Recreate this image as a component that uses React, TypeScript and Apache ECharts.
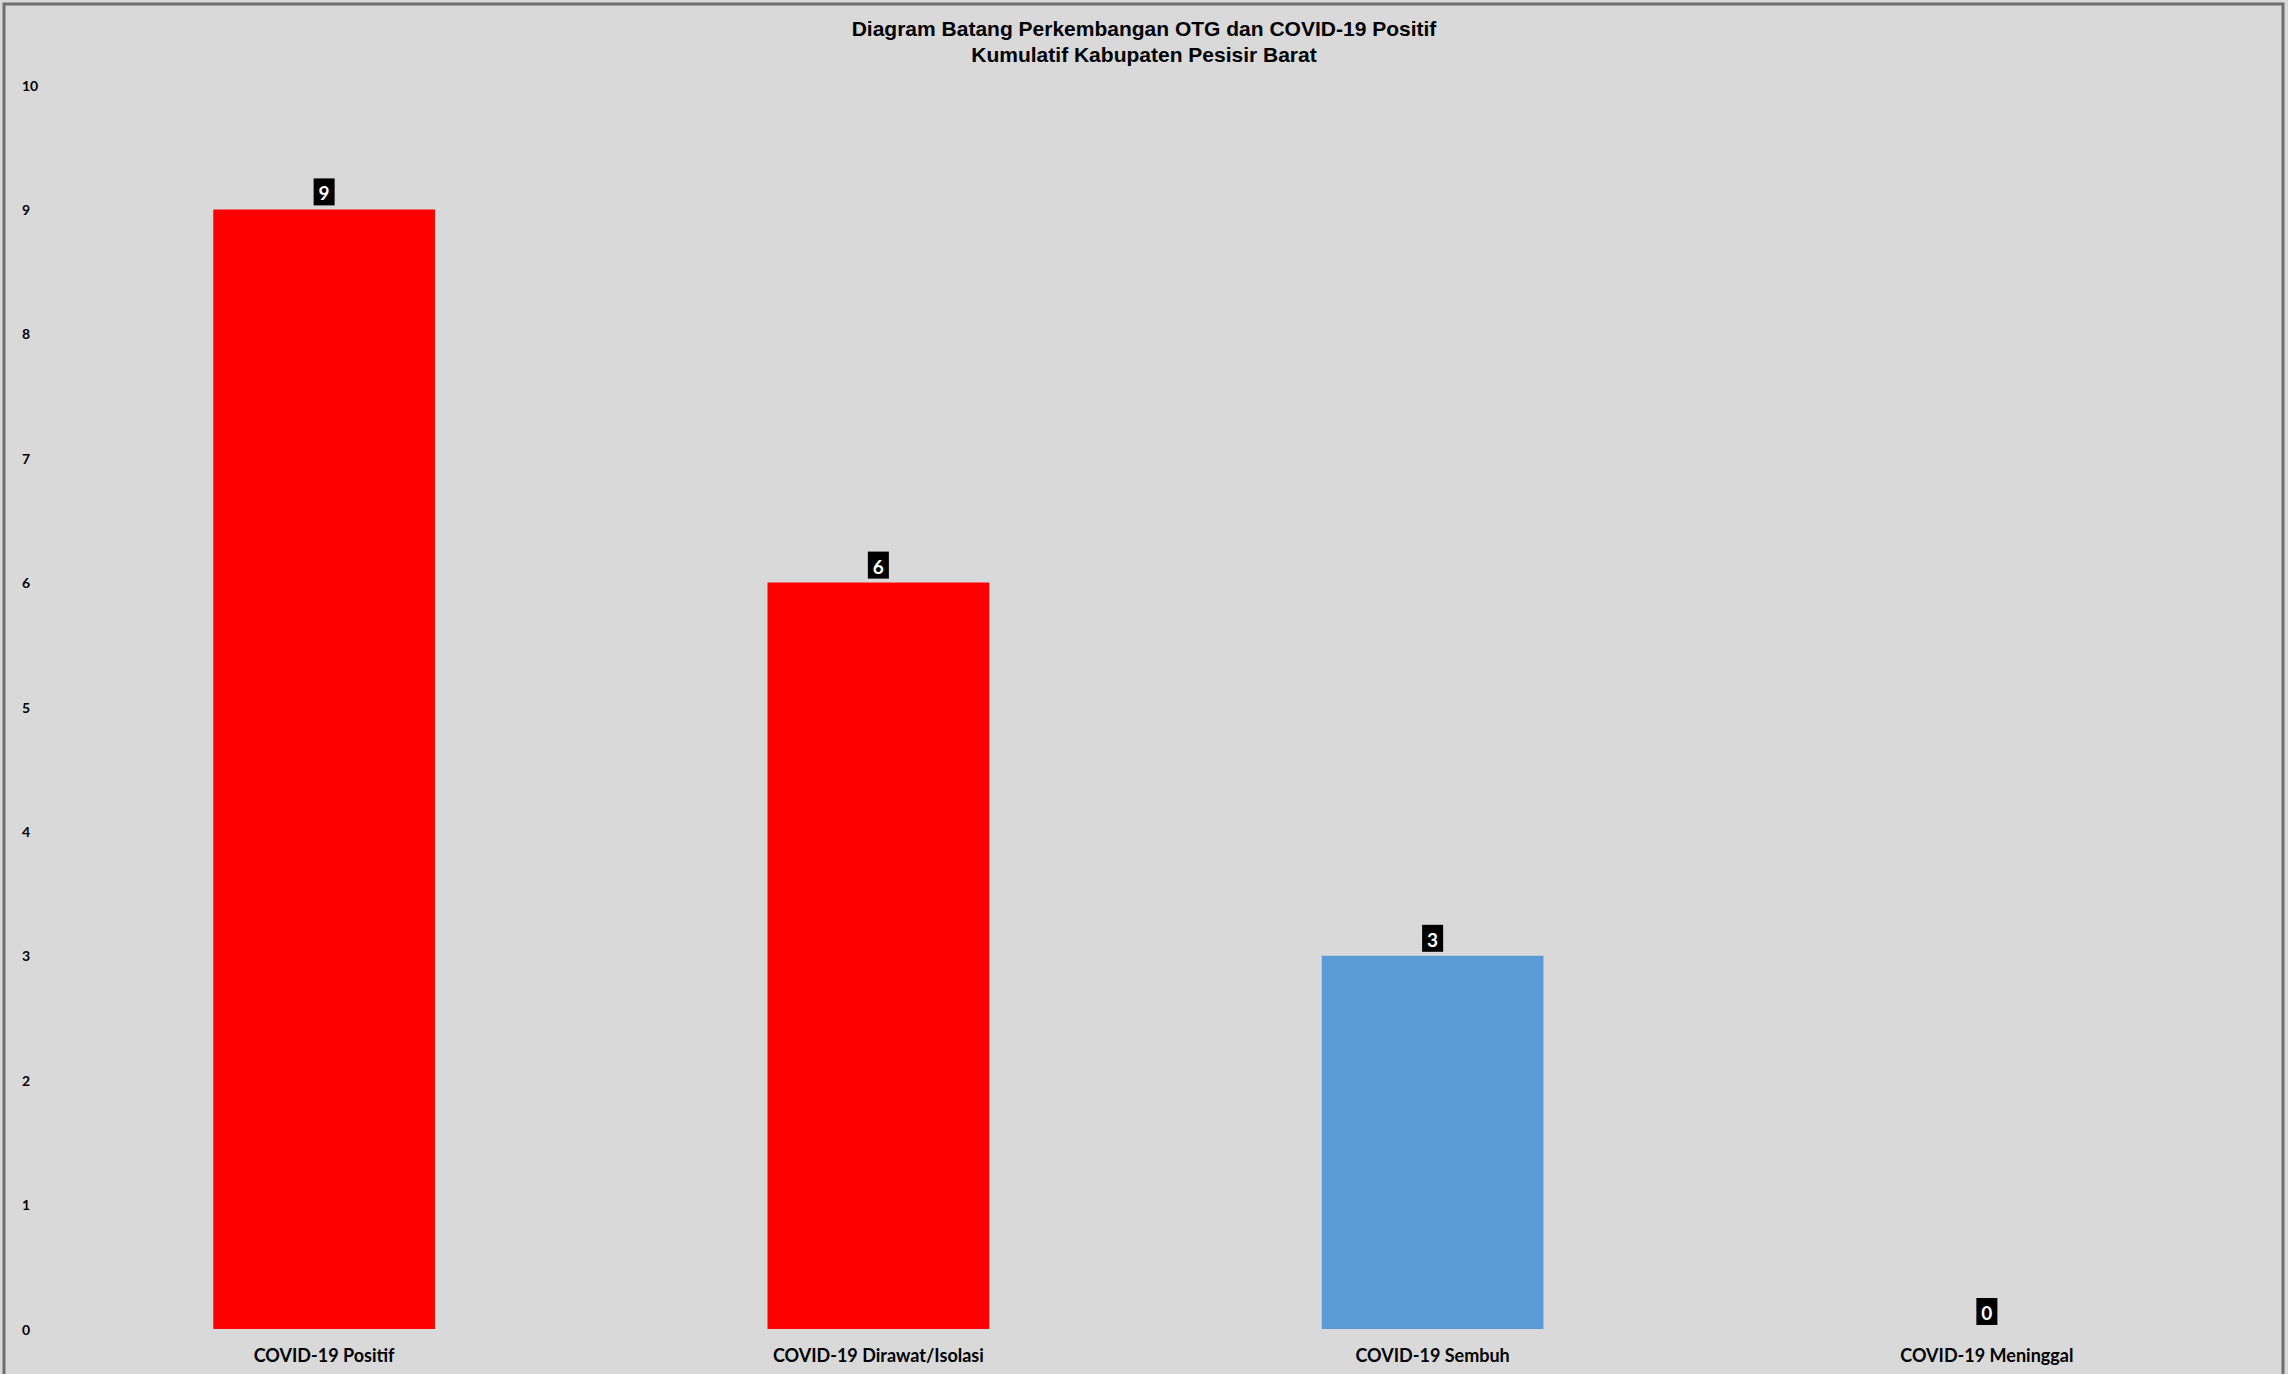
import React, { useEffect, useRef } from "react";
import * as echarts from "echarts";

const titleLines = [
  "Diagram Batang Perkembangan OTG dan COVID-19 Positif",
  "Kumulatif Kabupaten Pesisir Barat",
];
const categories = [
  "COVID-19 Positif",
  "COVID-19 Dirawat/Isolasi",
  "COVID-19 Sembuh",
  "COVID-19 Meninggal",
];
const values = [9, 6, 3, 0];
const barColors = ["#ff0000", "#ff0000", "#5b9bd5", "#5b9bd5"];
const yMin = 0;
const yMax = 10;
const yInterval = 1;

export default function App() {
  const ref = useRef<HTMLDivElement>(null);
  useEffect(() => {
    if (!ref.current) return;
    const chart = echarts.init(ref.current, undefined, { renderer: "svg" });
    const labelFont = "Lato, 'Open Sans', sans-serif";
    chart.setOption({
      animation: false,
      backgroundColor: "#d9d9d9",
      title: {
        text: titleLines.join("\n"),
        left: "center",
        top: 10,
        textStyle: {
          fontFamily: "'Liberation Sans Narrow', 'Liberation Sans', Arial, sans-serif",
          fontWeight: "bold",
          fontSize: 21,
          lineHeight: 26,
          color: "#000",
        },
      },
      graphic: [
        {
          type: "rect",
          shape: { x: 4, y: 4, width: 2279, height: 1380 },
          style: { fill: "none", stroke: "#6e6e6e", lineWidth: 3 },
          silent: true,
        },
      ],
      grid: { left: 47, right: 24, top: 85, bottom: 45 },
      xAxis: {
        type: "category",
        data: categories,
        axisLine: { show: false },
        axisTick: { show: false },
        splitLine: { show: false },
        axisLabel: {
          margin: 17,
          fontSize: 18,
          fontWeight: "bold",
          fontFamily: labelFont,
          color: "#000",
        },
      },
      yAxis: {
        type: "value",
        min: yMin,
        max: yMax,
        interval: yInterval,
        axisLine: { show: false },
        axisTick: { show: false },
        splitLine: { show: false },
        axisLabel: {
          align: "left",
          margin: 25,
          fontSize: 14,
          fontWeight: "bold",
          fontFamily: labelFont,
          color: "#000",
        },
      },
      series: [
        {
          type: "bar",
          barWidth: "40%",
          data: values.map((v, i) => ({ value: v, itemStyle: { color: barColors[i] } })),
          label: {
            show: true,
            position: "top",
            distance: 4,
            backgroundColor: "#000",
            color: "#fff",
            fontWeight: "bold",
            fontSize: 19,
            fontFamily: labelFont,
            padding: [5, 5, 3, 5],
          },
        },
      ],
    });
    return () => chart.dispose();
  }, []);
  return (
    <div
      ref={ref}
      style={{ position: "fixed", left: 0, top: 0, width: 2288, height: 1374 }}
    />
  );
}
